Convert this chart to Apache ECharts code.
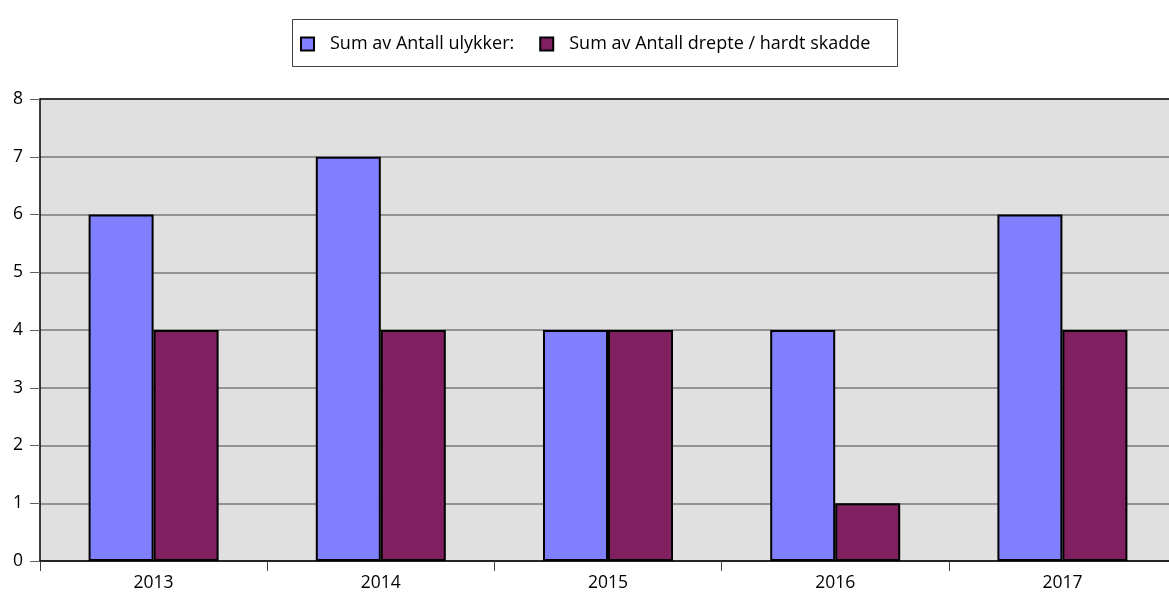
<!DOCTYPE html>
<html>
<head>
<meta charset="utf-8">
<script src="https://cdn.jsdelivr.net/npm/echarts@6/dist/echarts.min.js"></script>
<style>
  html, body { margin: 0; padding: 0; background: #ffffff; overflow: hidden; }
  #chart { width: 1176px; height: 605px; }
</style>
</head>
<body>
<div id="chart"></div>
<script>
var years = ['2013', '2014', '2015', '2016', '2017'];
var ulykker = [6, 7, 4, 4, 6];
var drepte = [4, 4, 4, 1, 4];
var yTicks = [0, 8, 1]; // min, max, interval

var chart = echarts.init(document.getElementById('chart'));
var fontFamily = '"Open Sans", Lato, sans-serif';

chart.setOption({
  backgroundColor: '#ffffff',
  animation: false,
  textStyle: { fontFamily: fontFamily },
  graphic: [
    {
      type: 'rect',
      left: 292, top: 19,
      shape: { width: 605, height: 47 },
      style: { fill: '#ffffff', stroke: '#404040', lineWidth: 1 },
      z: 0
    }
  ],
  legend: {
    top: 30,
    left: 295,
    itemWidth: 13,
    itemHeight: 13,
    itemGap: 25,
    icon: 'rect',
    textStyle: { fontSize: 18, color: '#000000', fontFamily: fontFamily, padding: [0, 0, 0, 11] },
    data: ['Sum av Antall ulykker:', 'Sum av Antall drepte / hardt skadde']
  },
  grid: {
    left: 40, right: 0, top: 99, bottom: 44,
    show: true,
    backgroundColor: '#e0e0e0',
    borderWidth: 0
  },
  xAxis: [
    {
      type: 'category',
      data: years,
      axisLine: { lineStyle: { color: '#000000', width: 1.5 } },
      axisTick: { show: true, length: 10, lineStyle: { color: '#404040' } },
      axisLabel: { fontSize: 17.5, color: '#000000', margin: 13 },
      splitLine: { show: false }
    },
    {
      type: 'category',
      data: years,
      position: 'top',
      axisLine: { show: true, lineStyle: { color: '#1a1a1a', width: 1.5 } },
      axisTick: { show: false },
      axisLabel: { show: false },
      splitLine: { show: false }
    }
  ],
  yAxis: {
    type: 'value',
    min: yTicks[0],
    max: yTicks[1],
    interval: yTicks[2],
    axisLine: { show: true, lineStyle: { color: '#000000', width: 1.5 } },
    axisTick: { show: true, length: 10, lineStyle: { color: '#606060' } },
    axisLabel: { fontSize: 17.5, color: '#000000', margin: 17 },
    splitLine: { show: true, lineStyle: { color: '#7a7a7a', width: 1.5 } }
  },
  series: [
    {
      name: 'Sum av Antall ulykker:',
      type: 'bar',
      data: ulykker,
      barWidth: 65,
      barGap: '0%',
      itemStyle: { color: '#8080ff', borderColor: '#000000', borderWidth: 2 }
    },
    {
      name: 'Sum av Antall drepte / hardt skadde',
      type: 'bar',
      data: drepte,
      barWidth: 65,
      barGap: '0%',
      itemStyle: { color: '#802060', borderColor: '#000000', borderWidth: 2 }
    }
  ]
});
</script>
</body>
</html>
